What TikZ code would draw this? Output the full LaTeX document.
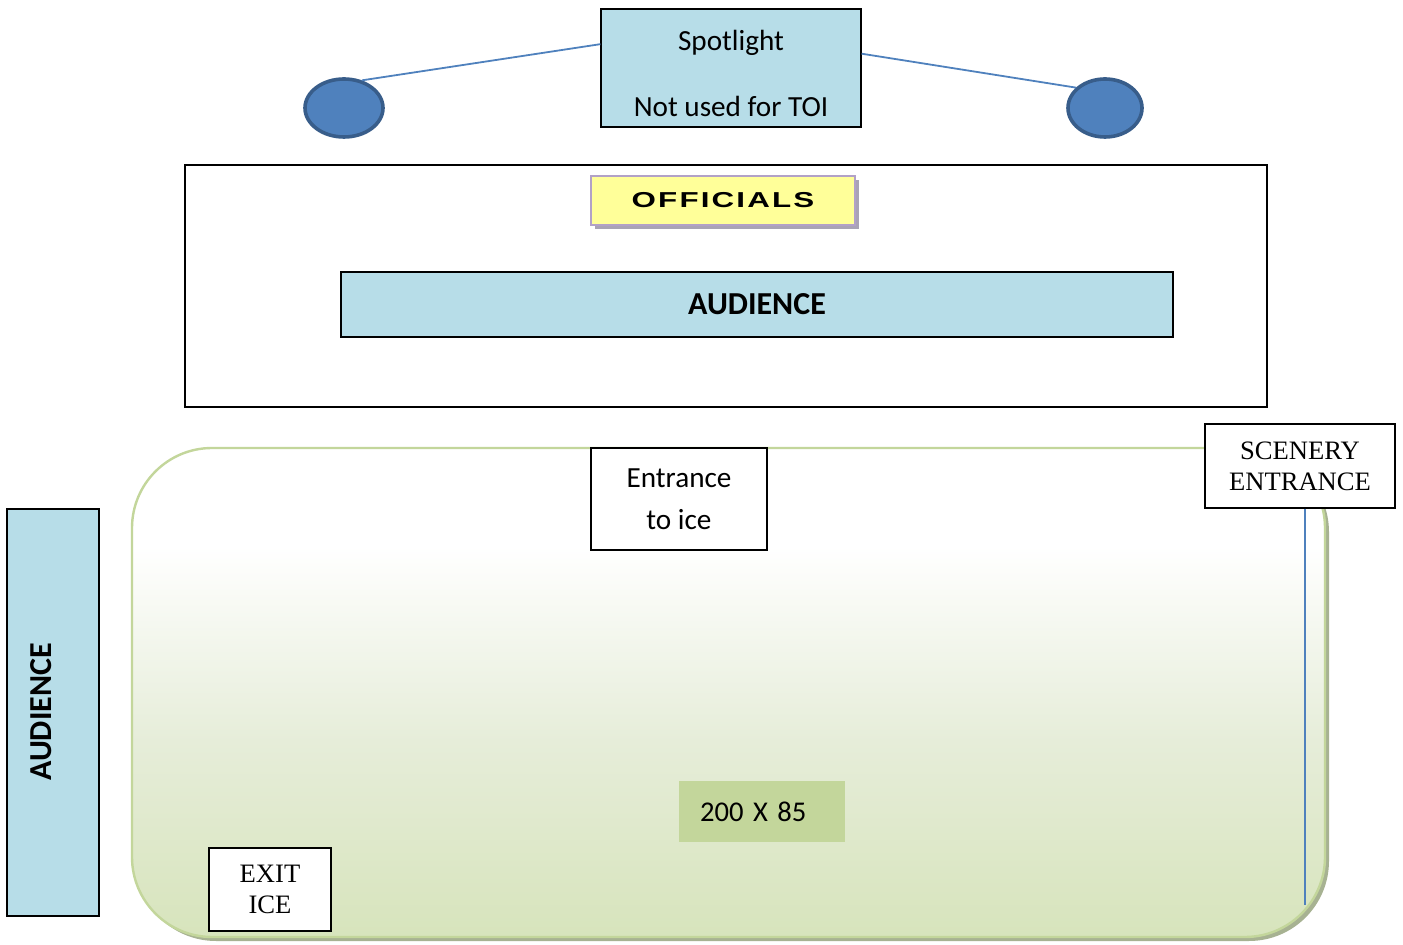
\documentclass[tikz,border=0pt]{standalone}
\usepackage{fontspec}
\setmainfont{Carlito}
\newfontfamily\timesf{Liberation Serif}
\newfontfamily\offf[FakeStretch=1.45,LetterSpace=10]{Liberation Sans}
\usetikzlibrary{shapes.geometric,calc}
\definecolor{lblue}{HTML}{B7DDE8}
\definecolor{spotfill}{HTML}{4F81BD}
\definecolor{spotdraw}{HTML}{385D8A}
\definecolor{rinkline}{HTML}{C3D69B}
\definecolor{rinkbot}{HTML}{D7E4BC}
\definecolor{rinkmid}{HTML}{E6EDD9}
\definecolor{rinkshadow}{HTML}{A7B292}
\definecolor{offfill}{HTML}{FFFF99}
\definecolor{offdraw}{HTML}{B2A1C7}
\definecolor{offshadow}{HTML}{A9A3B5}
\definecolor{sizefill}{HTML}{C3D69B}
\pgfdeclareverticalshading{rinkshade}{100bp}{color(0bp)=(rinkbot); color(25bp)=(rinkbot); color(45bp)=(rinkmid); color(65bp)=(white); color(100bp)=(white)}
\tikzset{
  box/.style={draw=black, line width=0.6pt, inner sep=0pt, align=center},
  cal/.style={font=\fontsize{14.6}{17.5}\selectfont},
  tim/.style={font=\timesf\fontsize{13.3}{15.5}\selectfont},
  lamp/.style={ellipse, fill=spotfill, draw=spotdraw, line width=1.8pt, minimum width=39pt, minimum height=29pt, inner sep=0pt},
  wire/.style={draw=spotfill, line width=0.9pt},
}
\begin{document}
\begin{tikzpicture}[x=0.5pt,y=-0.5pt]
\useasboundingbox (0,0) rectangle (1403,945);
% spotlight
\node[box, fill=lblue, minimum width=130pt, minimum height=59pt] (spot) at (731,68) {};
\node[cal, align=center, inner sep=0pt] (spotT) at (731,73) {Spotlight\\[15.5pt]Not used for TOI};
\node[lamp] (ell1) at (344,108) {};
\node[lamp, minimum width=37pt] (ell2) at (1105,108) {};
\draw[wire] (ell1.57) -- ($(spot.north west)!0.30!(spot.south west)$);
\draw[wire] ($(spot.north east)!0.38!(spot.south east)$) -- (ell2.145);
% officials area
\node[draw=black, line width=1pt, minimum width=541pt, minimum height=121pt, inner sep=0pt] (stage) at (726,286) {};
\fill[offshadow] (595,180) rectangle (859,229);
\node[fill=offfill, draw=offdraw, line width=1pt, minimum width=132pt, minimum height=24.5pt, inner sep=0pt, font=\offf\bfseries\fontsize{10.8}{12}\selectfont] (off) at (723,200.5) {OFFICIALS};
\node[box, fill=lblue, minimum width=416pt, minimum height=32.5pt, font=\bfseries\fontsize{16}{19}\selectfont] (aud1) at (757,304.5) {AUDIENCE};
% rink
\fill[rinkshadow, rounded corners=40pt] (136,452) rectangle (1329,941);
\path[shading=rinkshade, draw=rinkline, line width=1.2pt, rounded corners=40pt] (132,448) rectangle (1325,937);
\node[box, cal, fill=white, minimum width=88pt, minimum height=51pt] (entr) at (679,499) {Entrance\\[3.5pt]to ice};
\node[box, tim, fill=white, minimum width=95pt, minimum height=42pt] (scen) at (1300,466) {SCENERY\\ENTRANCE};
\coordinate (scenEnd) at (1305,905);
\draw[wire] (scen.south -| scenEnd) -- (scenEnd);
\node[fill=sizefill, minimum height=30.5pt, inner xsep=10.5pt, inner ysep=0pt, text width=62pt, align=left, font=\fontsize{14.3}{17}\selectfont] (size) at (762,811.5) {200 X 85};
\node[box, tim, fill=white, minimum width=61pt, minimum height=41.5pt] (exit) at (270,889.5) {EXIT\\ICE};
% left audience
\node[box, line width=1pt, fill=lblue, minimum width=46pt, minimum height=203.5pt] (aud2) at (53,712.5) {};
\node[rotate=90, font=\bfseries\fontsize{16}{19}\selectfont, inner sep=0pt] (aud2t) at (41,712) {AUDIENCE};
\end{tikzpicture}
\end{document}
